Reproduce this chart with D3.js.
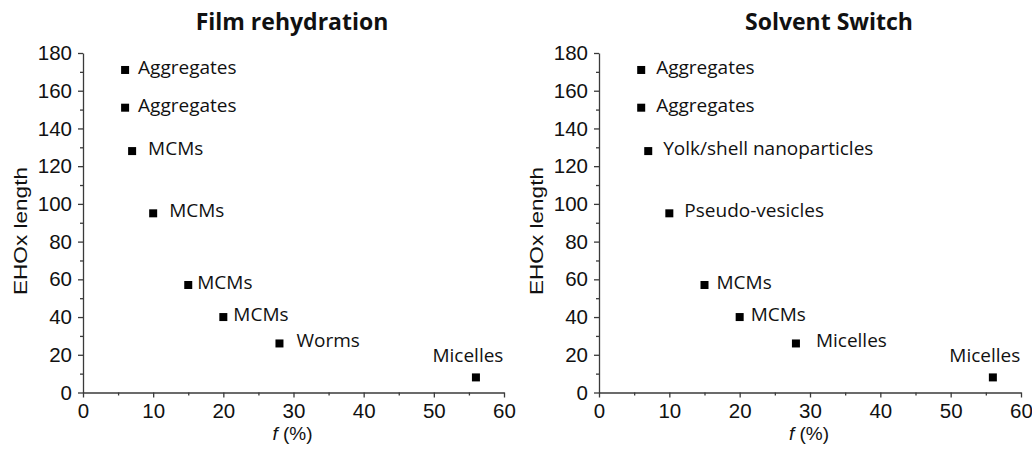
<!DOCTYPE html>
<html lang="en">
<head>
<meta charset="utf-8">
<title>EHOx length vs f</title>
<script src="https://cdn.jsdelivr.net/npm/d3@7/dist/d3.min.js"></script>
<style>
  body { margin: 0; background: #fff; }
  .axis path, .axis line { stroke: #3a3a3a; stroke-width: 1.3px; }
  .axis text { font-family: "Liberation Sans", Arial, sans-serif; font-size: 20.5px; fill: #111; }
  .lbl { font-family: "Open Sans", sans-serif; font-size: 19px; fill: #111; }
  .title { font-family: "Open Sans", sans-serif; font-weight: bold; font-size: 23px; fill: #111; }
</style>
</head>
<body>
<script>
// data
var fValues = [6, 6, 7, 10, 15, 20, 28, 56];
var ehoxLength = [171, 151, 128, 95, 57, 40, 26, 8];
var filmLabels = ["Aggregates", "Aggregates", "MCMs", "MCMs", "MCMs", "MCMs", "Worms", "Micelles"];
var switchLabels = ["Aggregates", "Aggregates", "Yolk/shell nanoparticles", "Pseudo-vesicles", "MCMs", "MCMs", "Micelles", "Micelles"];
var xTicks = [0, 10, 20, 30, 40, 50, 60];
var yTicks = [0, 20, 40, 60, 80, 100, 120, 140, 160, 180];

// label placement (layout only)
var filmLabelDx = [13, 13, 16, 16, 9, 10, 17, -8];
var switchLabelDx = [15, 15, 15, 15, 12, 11, 20, -8];

var w = 1032, h = 449;
var svg = d3.select("body").append("svg")
    .attr("width", w)
    .attr("height", h);

var panels = [
  { title: "Film rehydration", labels: filmLabels, dx: filmLabelDx, left: 83, right: 504, titleX: 292, yLabelX: 20 },
  { title: "Solvent Switch", labels: switchLabels, dx: switchLabelDx, left: 599, right: 1021, titleX: 829, yLabelX: 536 }
];

var plotTop = 53, plotBottom = 392.5;

panels.forEach(function(p) {
  var x = d3.scaleLinear().domain([0, 60]).range([p.left, p.right]);
  var y = d3.scaleLinear().domain([0, 180]).range([plotBottom, plotTop]);

  var g = svg.append("g");

  // minor ticks
  g.append("g").attr("class", "axis")
    .attr("transform", "translate(0," + plotBottom + ")")
    .call(d3.axisBottom(x).tickValues(d3.range(5, 60, 10)).tickSize(3).tickFormat(""))
    .select(".domain").remove();
  g.append("g").attr("class", "axis")
    .attr("transform", "translate(" + p.left + ",0)")
    .call(d3.axisLeft(y).tickValues(d3.range(10, 180, 20)).tickSize(3).tickFormat(""))
    .select(".domain").remove();

  // major axes
  g.append("g").attr("class", "axis")
    .attr("transform", "translate(0," + plotBottom + ")")
    .call(d3.axisBottom(x).tickValues(xTicks).tickSize(5).tickSizeOuter(0).tickPadding(3))
    .selectAll("text").attr("dy", "0.85em");
  g.append("g").attr("class", "axis")
    .attr("transform", "translate(" + p.left + ",0)")
    .call(d3.axisLeft(y).tickValues(yTicks).tickSize(5).tickSizeOuter(0).tickPadding(6));

  // axis titles
  g.append("text")
    .attr("x", (p.left + p.right) / 2 - 1)
    .attr("y", 440)
    .attr("text-anchor", "middle")
    .attr("font-family", "Liberation Sans, Arial, sans-serif")
    .attr("font-size", "19px")
    .attr("fill", "#111")
    .html('<tspan font-style="italic">f</tspan> (%)');

  g.append("text")
    .attr("transform", "translate(" + (p.yLabelX + 7) + "," + 231 + ") rotate(-90)")
    .attr("text-anchor", "middle")
    .attr("font-family", "Liberation Sans, Arial, sans-serif")
    .attr("font-size", "19px")
    .attr("fill", "#111")
    .attr("textLength", 128)
    .attr("lengthAdjust", "spacingAndGlyphs")
    .text("EHOx length");

  // title
  g.append("text")
    .attr("class", "title")
    .attr("x", p.titleX)
    .attr("y", 30)
    .attr("text-anchor", "middle")
    .text(p.title);

  // points
  var s = 8;
  g.selectAll("rect.pt")
    .data(fValues)
    .enter()
    .append("rect")
    .attr("class", "pt")
    .attr("x", function(d) { return x(d) - s / 2; })
    .attr("y", function(d, i) { return y(ehoxLength[i]) - s / 2; })
    .attr("width", s)
    .attr("height", s)
    .attr("fill", "#000");

  // labels
  g.selectAll("text.lbl")
    .data(p.labels)
    .enter()
    .append("text")
    .attr("class", "lbl")
    .attr("x", function(d, i) { return x(fValues[i]) + p.dx[i]; })
    .attr("y", function(d, i) {
      var last = i === p.labels.length - 1;
      return y(ehoxLength[i]) + (last ? -15 : 4);
    })
    .attr("text-anchor", function(d, i) { return i === p.labels.length - 1 ? "middle" : "start"; })
    .text(function(d) { return d; });
});
</script>
</body>
</html>
